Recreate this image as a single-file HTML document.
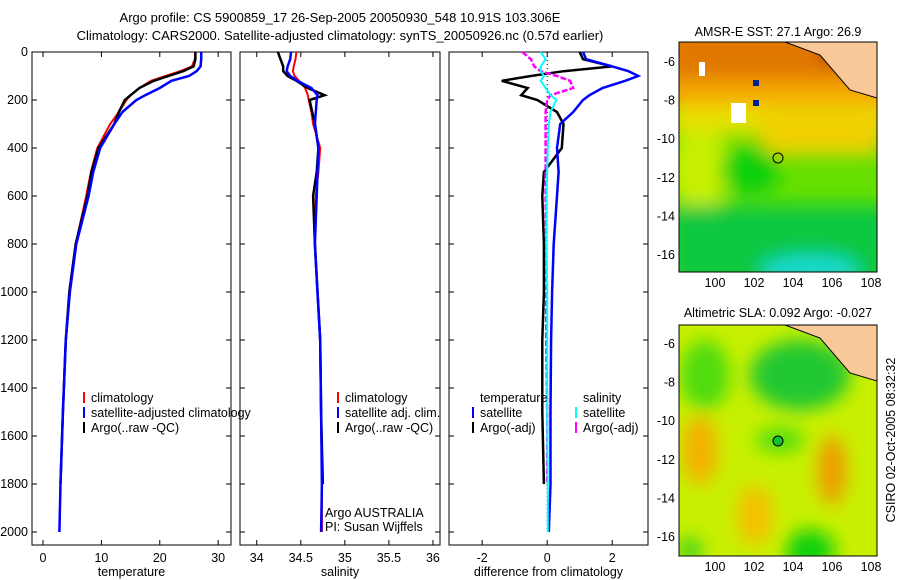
<!DOCTYPE html>
<html><head><meta charset="utf-8"><style>
body{margin:0;background:#fff;}
svg{display:block;font-family:"Liberation Sans",sans-serif;}
text{font-size:12.5px;fill:#000;}
</style></head><body>
<svg id="s" width="900" height="580" viewBox="0 0 900 580">
<defs>
<filter id="bl" x="-50%" y="-50%" width="200%" height="200%"><feGaussianBlur stdDeviation="9"/></filter>
<clipPath id="c1"><rect x="679" y="42" width="198" height="230"/></clipPath>
<clipPath id="c2"><rect x="679" y="325" width="198" height="231"/></clipPath>
</defs>
<text x="340" y="22" text-anchor="middle" style="font-size:13px">Argo profile: CS 5900859_17 26-Sep-2005 20050930_548 10.91S 103.306E</text>
<text x="340" y="40" text-anchor="middle" style="font-size:13px">Climatology: CARS2000. Satellite-adjusted climatology: synTS_20050926.nc (0.57d earlier)</text>
<g id="g"></g>
<!-- map 1 -->
<g clip-path="url(#c1)">
<rect x="679" y="42" width="198" height="230" fill="#66e000"/>
<rect x="679" y="42" width="198" height="60" fill="#e88a00"/>
<g filter="url(#bl)">
<rect x="670" y="30" width="220" height="55" fill="#e07800"/>
<rect x="670" y="80" width="220" height="30" fill="#f5a800"/>
<rect x="670" y="105" width="220" height="30" fill="#e8e000"/>
<rect x="760" y="110" width="120" height="45" fill="#f0d000"/>
<ellipse cx="700" cy="170" rx="30" ry="40" fill="#c8f000"/>
<ellipse cx="750" cy="170" rx="30" ry="25" fill="#10d010"/>
<rect x="670" y="205" width="220" height="80" fill="#08c840"/>
<ellipse cx="810" cy="270" rx="50" ry="15" fill="#18d8d0"/>
<rect x="820" y="30" width="60" height="30" fill="#b01800"/>
</g>
<rect x="699" y="62" width="6" height="14" fill="#fff"/>
<rect x="731" y="103" width="15" height="20" fill="#fff"/>
<rect x="753" y="80" width="6" height="6" fill="#002090"/>
<rect x="753" y="100" width="6" height="6" fill="#002090"/>
<path d="M785,42 L820,55 L850,90 L877,98 L877,42 Z" fill="#f8c898" stroke="#000"/>
<circle cx="778" cy="158" r="5" fill="none" stroke="#000"/>
</g>
<rect x="679" y="42" width="198" height="230" fill="none" stroke="#000"/>
<text x="778" y="36" text-anchor="middle">AMSR-E SST: 27.1 Argo: 26.9</text>
<!-- map 2 -->
<g clip-path="url(#c2)">
<rect x="679" y="325" width="198" height="231" fill="#c8f000"/>
<g filter="url(#bl)">
<ellipse cx="705" cy="375" rx="25" ry="35" fill="#50dc10"/>
<ellipse cx="800" cy="375" rx="50" ry="35" fill="#20c830"/>
<ellipse cx="780" cy="440" rx="25" ry="12" fill="#50dc10"/>
<ellipse cx="700" cy="450" rx="18" ry="35" fill="#f5b000"/>
<ellipse cx="832" cy="470" rx="14" ry="35" fill="#f09800"/>
<ellipse cx="755" cy="515" rx="18" ry="30" fill="#f5c000"/>
<ellipse cx="810" cy="550" rx="25" ry="20" fill="#10d010"/>
<ellipse cx="690" cy="550" rx="12" ry="12" fill="#30d020"/>
</g>
<path d="M785,325 L820,338 L850,373 L877,381 L877,325 Z" fill="#f8c898" stroke="#000"/>
<circle cx="778" cy="441" r="5" fill="#10c030" stroke="#000"/>
</g>
<rect x="679" y="325" width="198" height="231" fill="none" stroke="#000"/>
<text x="778" y="317" text-anchor="middle">Altimetric SLA: 0.092 Argo: -0.027</text>
<text transform="translate(895,440) rotate(-90)" text-anchor="middle">CSIRO 02-Oct-2005 08:32:32</text>
</svg>
<script>
const NS="http://www.w3.org/2000/svg";
const g=document.getElementById('g');
// depth grids
const dA=[0,30,60,80,100,120,150,180,200,250,300,400,500,600,800,1000,1200,1500,1800];
const dC=[0,30,60,80,100,120,150,180,200,250,300,400,500,600,800,1000,1200,1500,1800,2000];
// temperature
const tArgo=[26.1,26.1,25.8,24,21.5,19,16.5,15,14,13,12.2,9.5,8.3,7.6,5.6,4.5,3.9,3.4,3.0];
const tClim=[26.1,26.0,25.5,23.5,21,18.5,16.5,15,14.3,13,11.5,9.3,8.2,7.4,5.6,4.5,3.9,3.4,3.0,2.8];
const tSat=[27.1,27.1,27.0,26.3,25,22,20,17.5,16,13.6,12.2,9.8,8.6,7.8,5.7,4.6,3.9,3.4,3.0,2.8];
// salinity
const sArgo=[34.24,34.27,34.3,34.3,34.35,34.45,34.58,34.77,34.6,34.63,34.66,34.7,34.68,34.64,34.66,34.69,34.72,34.73,34.75];
const sClim=[34.45,34.44,34.42,34.41,34.43,34.48,34.55,34.58,34.59,34.62,34.64,34.72,34.7,34.67,34.66,34.69,34.72,34.73,34.74,34.74];
const sSat=[34.39,34.38,34.35,34.34,34.38,34.46,34.62,34.69,34.68,34.67,34.66,34.7,34.69,34.68,34.66,34.69,34.72,34.73,34.74,34.73];
// differences
const dtSat=[1.1,1.2,2.0,2.5,2.8,2.4,1.7,1.3,1.1,0.8,0.4,0.3,0.35,0.3,0.2,0.15,0.12,0.1,0.1,0.05];
const dtArgo=[1.0,1.1,2.0,0.5,-0.5,-1.4,-0.6,-0.8,-0.3,0.3,0.5,0.45,-0.1,-0.15,-0.1,-0.1,-0.15,-0.15,-0.1];
const dsSat=[-0.2,-0.05,-0.2,-0.2,-0.1,-0.2,-0.05,0.1,0.28,0.1,0.05,0.02,0,-0.02,-0.02,0,0,0,0.02,0.02];
const dsArgo=[-0.77,-0.5,-0.4,-0.2,0.3,0.7,0.8,0.1,0,-0.05,-0.05,-0.05,-0.05,-0.05,-0.03,-0.03,-0.03,0,0];
const depthTicks=[0,200,400,600,800,1000,1200,1400,1600,1800,2000];
const P=[
 {x0:32,x1:231,v0:-1.89,v1:32.2,ticks:[0,10,20,30],lab:'temperature',name:'temperature-panel'},
 {x0:240,x1:440,v0:33.81,v1:36.08,ticks:[34,34.5,35,35.5,36],lab:'salinity',name:'salinity-panel'},
 {x0:449,x1:648,v0:-3.02,v1:3.1,ticks:[-2,0,2],lab:'difference from climatology',name:'difference-panel'}];
const Y0=52,Y1=545;
const y=d=>Y0+d*0.24;
function el(t,a,p){const e=document.createElementNS(NS,t);for(const k in a)e.setAttribute(k,a[k]);(p||g).appendChild(e);return e;}
P.forEach((p,i)=>{
 p.x=v=>p.x0+(v-p.v0)/(p.v1-p.v0)*(p.x1-p.x0);
 const f=el('rect',{x:p.x0,y:Y0,width:p.x1-p.x0,height:Y1-Y0,fill:'none',stroke:'#000'});
 
 
 p.ticks.forEach(t=>{const X=p.x(t);
  el('line',{x1:X,x2:X,y1:Y1,y2:Y1-5,stroke:'#000'});el('line',{x1:X,x2:X,y1:Y0,y2:Y0+5,stroke:'#000'});
  const tx=el('text',{x:X,y:Y1+17,'text-anchor':'middle'});tx.textContent=t;
  
  });
 depthTicks.forEach(d=>{el('line',{x1:p.x0,x2:p.x0+5,y1:y(d),y2:y(d),stroke:'#000'});el('line',{x1:p.x1,x2:p.x1-5,y1:y(d),y2:y(d),stroke:'#000'});
  if(i==0){const tx=el('text',{x:28,y:y(d)+4,'text-anchor':'end'});tx.textContent=d;
  
  }});
 const xl=el('text',{x:(p.x0+p.x1)/2,y:576,'text-anchor':'middle'});xl.textContent=p.lab;
 
 
});
function line(p,ds,vs,col,w,nm,dash){
 const pts=vs.map((v,i)=>p.x(v).toFixed(1)+','+y(ds[i]).toFixed(1)).join(' ');
 const l=el('polyline',{points:pts,fill:'none',stroke:col,'stroke-width':w});
 if(dash)l.setAttribute('stroke-dasharray',dash);
 
 
}
line(P[0],dC,tClim,'#f00',2,'temp-climatology-line');
line(P[0],dA,tArgo,'#000',2.5,'temp-argo-line');
line(P[0],dC,tSat,'#00f',2.5,'temp-satellite-line');
line(P[1],dC,sClim,'#f00',2,'sal-climatology-line');
line(P[1],dA,sArgo,'#000',2.5,'sal-argo-line');
line(P[1],dC,sSat,'#00f',2.5,'sal-satellite-line');
const zx=P[2].x(0);
const zl=el('line',{x1:zx,x2:zx,y1:Y0,y2:y(2000),stroke:'#000','stroke-dasharray':'1,3'});


line(P[2],dA,dtArgo,'#000',2.5,'dtemp-argo-line');
line(P[2],dC,dtSat,'#00f',2.5,'dtemp-satellite-line');
line(P[2],dA,dsArgo,'#f0f',2.5,'dsal-argo-line','6,2');
line(P[2],dC,dsSat,'#0ff',2,'dsal-satellite-line');
function leg(x,yy,col,txt){
 const l=el('line',{x1:x,x2:x,y1:yy-10,y2:yy+1,stroke:col,'stroke-width':2});
 
 
 const t=el('text',{x:x+7,y:yy});t.textContent=txt;
 
 
}
leg(84,402,'#f00','climatology');leg(84,417,'#00f','satellite-adjusted climatology');leg(84,432,'#000','Argo(..raw -QC)');
leg(338,402,'#f00','climatology');leg(338,417,'#00f','satellite adj. clim.');leg(338,432,'#000','Argo(..raw -QC)');
const t1=el('text',{x:480,y:402});t1.textContent='temperature';


const t2=el('text',{x:583,y:402});t2.textContent='salinity';


leg(473,417,'#00f','satellite');leg(473,432,'#000','Argo(-adj)');
leg(576,417,'#0ff','satellite');leg(576,432,'#f0f','Argo(-adj)');
const a1=el('text',{x:325,y:517});a1.textContent='Argo AUSTRALIA';


const a2=el('text',{x:325,y:531});a2.textContent='PI: Susan Wijffels';


// map axes
const lonTicks=[100,102,104,106,108];
const latTicks=[-6,-8,-10,-12,-14,-16];
[[42,272,62],[325,556,344]].forEach(m=>{
 lonTicks.forEach(L=>{const X=715+(L-100)*19.5;
  el('line',{x1:X,x2:X,y1:m[1],y2:m[1]-4,stroke:'#000'});el('line',{x1:X,x2:X,y1:m[0],y2:m[0]+4,stroke:'#000'});
  const t=el('text',{x:X,y:m[1]+15,'text-anchor':'middle'});t.textContent=L;
  
  });
 latTicks.forEach(L=>{const Y=m[2]+(-6-L)*19.3;
  el('line',{x1:679,x2:683,y1:Y,y2:Y,stroke:'#000'});el('line',{x1:877,x2:873,y1:Y,y2:Y,stroke:'#000'});
  const t=el('text',{x:675,y:Y+4,'text-anchor':'end'});t.textContent=L;
  
  });
});
</script>
</body></html>
